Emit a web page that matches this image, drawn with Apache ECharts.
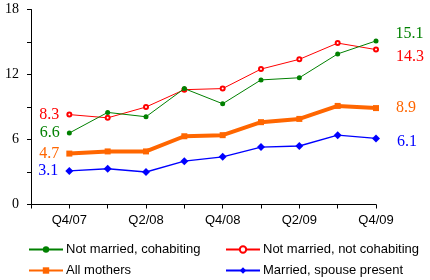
<!DOCTYPE html>
<html><head><meta charset="utf-8">
<script src="https://cdn.jsdelivr.net/npm/echarts@6/dist/echarts.min.js"></script>
<style>html,body{margin:0;padding:0;background:#fff}#c{width:430px;height:280px}</style>
</head><body><div id="c"></div>
<script>
const categories = ['', 'Q4/07', 'Q1/08', 'Q2/08', 'Q3/08', 'Q4/08', 'Q1/09', 'Q2/09', 'Q3/09', 'Q4/09'];
const cohabiting = [6.6, 8.5, 8.1, 10.7, 9.3, 11.5, 11.7, 13.9, 15.1];
const notCohabiting = [8.3, 8.0, 9.0, 10.6, 10.7, 12.5, 13.4, 14.9, 14.3];
const allMothers = [4.7, 4.9, 4.9, 6.3, 6.4, 7.6, 7.9, 9.1, 8.9];
const married = [3.1, 3.3, 3.0, 4.0, 4.4, 5.3, 5.4, 6.4, 6.1];
const yTicks = [0, 6, 12, 18];
const seriesNames = ['Not married, cohabiting', 'Not married, not cohabiting', 'All mothers', 'Married, spouse present'];

function build(vals, color, rightOffset) {
  const last = vals.length - 1;
  const lab = {show: true, color: color, fontFamily: 'Liberation Serif', fontSize: 16,
    formatter: p => p.value.toFixed(1)};
  const data = vals.map((v, i) => {
    if (i === 0) return {value: v, label: Object.assign({}, lab, {position: 'left', distance: 7})};
    if (i === last) return {value: v, label: Object.assign({}, lab, {position: 'right', distance: 17, offset: [0, rightOffset]})};
    return v;
  });
  return ['-'].concat(data);
}

function leg(name, left, top) {
  return {left: left, top: top, itemWidth: 34, itemHeight: 8, padding: 0,
    textStyle: {color: '#000', fontFamily: 'Liberation Sans', fontSize: 13, padding: [0, 0, 0, -2]},
    data: [name]};
}

const chart = echarts.init(document.getElementById('c'), null, {renderer: 'canvas'});
chart.setOption({
  animation: false,
  grid: {left: 31, right: 54, top: 9.5, bottom: 75.5, containLabel: false},
  xAxis: {
    type: 'category', data: categories, boundaryGap: false,
    axisLine: {lineStyle: {color: '#000', width: 1}},
    axisTick: {show: true, interval: 0, length: 4, lineStyle: {color: '#000'}},
    axisLabel: {interval: (i) => i % 2 === 1, color: '#000', fontFamily: 'Liberation Sans', fontSize: 13, margin: 9},
    splitLine: {show: false}
  },
  yAxis: {
    type: 'value', min: 0, max: 18, interval: 3,
    axisLine: {show: true, lineStyle: {color: '#000', width: 1}},
    axisTick: {show: true, length: 4, lineStyle: {color: '#000'}},
    axisLabel: {color: '#000', fontFamily: 'Liberation Serif', fontSize: 14, margin: 12,
      formatter: v => yTicks.indexOf(v) >= 0 ? String(v) : ''},
    splitLine: {show: false}
  },
  legend: [
    leg(seriesNames[0], 28, 243),
    leg(seriesNames[2], 28, 264),
    leg(seriesNames[1], 225, 243),
    leg(seriesNames[3], 225, 264)
  ],
  series: [
    {name: seriesNames[0], type: 'line', data: build(cohabiting, '#008000', -7),
     color: '#008000', lineStyle: {width: 1, color: '#008000'}, symbol: 'circle', symbolSize: 5,
     itemStyle: {color: '#008000'}, z: 3},
    {name: seriesNames[1], type: 'line', data: build(notCohabiting, '#ff0000', 7),
     color: '#ff0000', lineStyle: {width: 1, color: '#ff0000'}, symbol: 'emptyCircle', symbolSize: 4,
     itemStyle: {color: '#ff0000', borderColor: '#ff0000', borderWidth: 1}, z: 2},
    {name: seriesNames[2], type: 'line', data: build(allMothers, '#ff6600', 0),
     color: '#ff6600', lineStyle: {width: 4, color: '#ff6600'}, symbol: 'rect', symbolSize: 6,
     itemStyle: {color: '#ff6600'}, z: 2},
    {name: seriesNames[3], type: 'line', data: build(married, '#0000ff', 3),
     color: '#0000ff', lineStyle: {width: 1.3, color: '#0000ff'}, symbol: 'diamond', symbolSize: 8,
     itemStyle: {color: '#0000ff'}, z: 2}
  ]
});
</script></body></html>
